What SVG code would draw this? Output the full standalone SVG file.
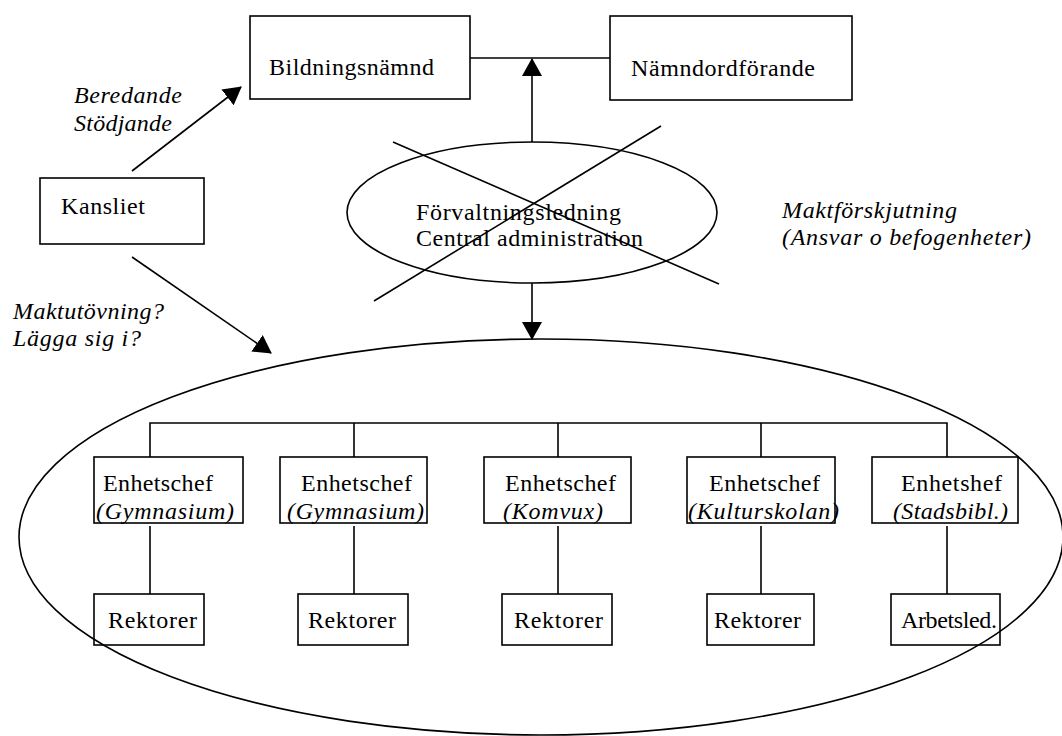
<svg xmlns="http://www.w3.org/2000/svg" width="1062" height="736" viewBox="0 0 1062 736">
<style>
text{font-family:"Liberation Serif","Times New Roman",serif;font-size:24px;fill:#000}
.i{font-style:italic}
.box{fill:none;stroke:#000;stroke-width:1.6}
.ln{fill:none;stroke:#000;stroke-width:1.6}
</style>
<defs>
<marker id="ah" viewBox="0 0 18 20" refX="17" refY="10" markerWidth="18" markerHeight="20" markerUnits="userSpaceOnUse" orient="auto">
<path d="M0,0 L18,10 L0,20 z" fill="#000"/>
</marker>
</defs>
<rect width="1062" height="736" fill="#fff"/>

<g id="unit-ellipse">
<ellipse cx="541" cy="537" rx="522" ry="198" class="ln"/>
</g>

<g id="bildningsnamnd">
<rect x="250" y="16" width="220" height="83" class="box"/>
<text x="269" y="75" textLength="165" lengthAdjust="spacing">Bildningsnämnd</text>
</g>
<g id="namndordforande">
<rect x="610" y="16" width="242" height="84" class="box"/>
<text x="631" y="76" textLength="184" lengthAdjust="spacing">Nämndordförande</text>
</g>
<g id="kansliet">
<rect x="40" y="178" width="164" height="66" class="box"/>
<text x="61" y="214" textLength="84" lengthAdjust="spacing">Kansliet</text>
</g>
<g id="forvaltning">
<ellipse cx="532" cy="212.5" rx="185" ry="70.5" class="ln"/>
<text x="416" y="220" textLength="205" lengthAdjust="spacing">Förvaltningsledning</text>
<text x="416" y="246" textLength="227" lengthAdjust="spacing">Central administration</text>
<line x1="393" y1="142" x2="719" y2="284" class="ln"/>
<line x1="374" y1="301" x2="661" y2="126" class="ln"/>
</g>

<g id="labels">
<text class="i" x="74" y="103" textLength="108" lengthAdjust="spacing">Beredande</text>
<text class="i" x="74" y="131" textLength="98" lengthAdjust="spacing">Stödjande</text>
<text class="i" x="13" y="319" textLength="151" lengthAdjust="spacing">Maktutövning?</text>
<text class="i" x="13" y="346" textLength="128" lengthAdjust="spacing">Lägga sig i?</text>
<text class="i" x="782" y="218" textLength="175" lengthAdjust="spacing">Maktförskjutning</text>
<text class="i" x="782" y="245" textLength="249" lengthAdjust="spacing">(Ansvar o befogenheter)</text>
</g>

<g id="enhet1">
<rect x="94" y="457" width="149" height="66" class="box"/>
<text x="103" y="491" textLength="110" lengthAdjust="spacing">Enhetschef</text>
<text class="i" x="96" y="519" textLength="138" lengthAdjust="spacing">(Gymnasium)</text>
</g>
<g id="enhet2">
<rect x="280" y="457" width="147" height="66" class="box"/>
<text x="301" y="491" textLength="111" lengthAdjust="spacing">Enhetschef</text>
<text class="i" x="287" y="519" textLength="137" lengthAdjust="spacing">(Gymnasium)</text>
</g>
<g id="enhet3">
<rect x="484" y="457" width="147" height="66" class="box"/>
<text x="505" y="491" textLength="111" lengthAdjust="spacing">Enhetschef</text>
<text class="i" x="503" y="519" textLength="100" lengthAdjust="spacing">(Komvux)</text>
</g>
<g id="enhet4">
<rect x="687" y="457" width="148" height="66" class="box"/>
<text x="709" y="491" textLength="111" lengthAdjust="spacing">Enhetschef</text>
<text class="i" x="688" y="519" textLength="151" lengthAdjust="spacing">(Kulturskolan)</text>
</g>
<g id="enhet5">
<rect x="872" y="457" width="146" height="66" class="box"/>
<text x="901" y="491" textLength="101" lengthAdjust="spacing">Enhetshef</text>
<text class="i" x="893" y="519" textLength="115" lengthAdjust="spacing">(Stadsbibl.)</text>
</g>

<g id="rektorer1">
<rect x="94" y="594" width="110" height="51" class="box"/>
<text x="108" y="628" textLength="89" lengthAdjust="spacing">Rektorer</text>
</g>
<g id="rektorer2">
<rect x="298" y="594" width="110" height="51" class="box"/>
<text x="308" y="628" textLength="88" lengthAdjust="spacing">Rektorer</text>
</g>
<g id="rektorer3">
<rect x="502" y="594" width="110" height="51" class="box"/>
<text x="514" y="628" textLength="89" lengthAdjust="spacing">Rektorer</text>
</g>
<g id="rektorer4">
<rect x="707" y="594" width="107" height="51" class="box"/>
<text x="714" y="628" textLength="87" lengthAdjust="spacing">Rektorer</text>
</g>
<g id="arbetsled">
<rect x="891" y="594" width="109" height="51" class="box"/>
<text x="901" y="628" textLength="96" lengthAdjust="spacing">Arbetsled.</text>
</g>

<g id="connectors">
<line x1="470" y1="58" x2="610" y2="58" class="ln"/>
<line x1="532" y1="142" x2="532" y2="59" class="ln" marker-end="url(#ah)"/>
<line x1="532" y1="283" x2="532" y2="339" class="ln" marker-end="url(#ah)"/>
<line x1="132" y1="171" x2="241" y2="87" class="ln" marker-end="url(#ah)"/>
<line x1="132" y1="257" x2="271" y2="353" class="ln" marker-end="url(#ah)"/>
<polyline points="150,457 150,423 947,423 947,457" class="ln"/>
<line x1="354" y1="423" x2="354" y2="457" class="ln"/>
<line x1="558" y1="423" x2="558" y2="457" class="ln"/>
<line x1="761" y1="423" x2="761" y2="457" class="ln"/>
<line x1="150" y1="526" x2="150" y2="594" class="ln"/>
<line x1="354" y1="526" x2="354" y2="594" class="ln"/>
<line x1="558" y1="526" x2="558" y2="594" class="ln"/>
<line x1="761" y1="526" x2="761" y2="594" class="ln"/>
<line x1="947" y1="526" x2="947" y2="594" class="ln"/>
</g>
</svg>
